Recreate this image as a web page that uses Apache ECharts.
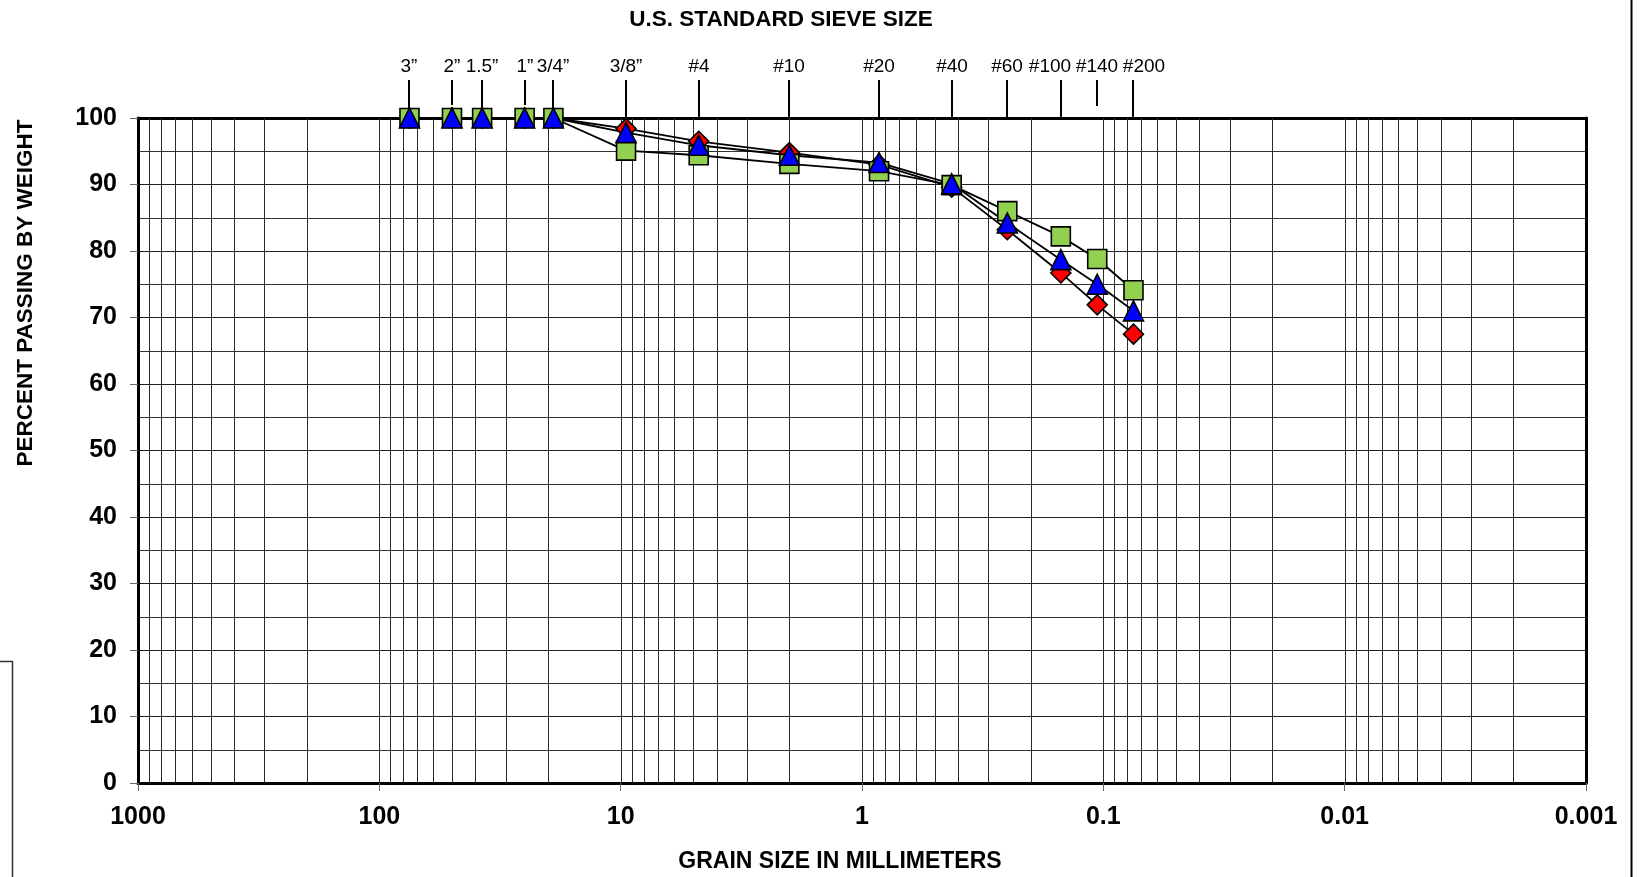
<!DOCTYPE html>
<html>
<head>
<meta charset="utf-8">
<script src="https://cdn.jsdelivr.net/npm/echarts@6/dist/echarts.min.js"></script>
<style>
  html, body { margin: 0; padding: 0; background: #fff; }
  #chart { width: 1641px; height: 877px; }
</style>
</head>
<body>
<div id="chart"></div>
<script>
// ---- data ----
const sieveLabels = ['3”', '2”', '1.5”', '1”', '3/4”', '3/8”', '#4', '#10', '#20', '#40', '#60', '#100', '#140', '#200'];
const sieveSizes  = [75, 50, 37.5, 25, 19, 9.5, 4.75, 2.0, 0.85, 0.425, 0.25, 0.15, 0.106, 0.075];
const redPassing   = [100, 100, 100, 100, 100, 98.4, 96.5, 94.8, 93.0, 89.6, 83.2, 76.7, 71.9, 67.5];
const greenPassing = [100, 100, 100, 100, 100, 95.1, 94.4, 93.1, 92.0, 89.9, 86.0, 82.2, 78.8, 74.1];
const bluePassing  = [100, 100, 100, 100, 100, 97.8, 95.9, 94.4, 93.3, 90.1, 84.2, 78.7, 75.0, 71.0];
const xTickLabels = ['0.001', '0.01', '0.1', '1', '10', '100', '1000'];
const yTickLabels = ['0', '10', '20', '30', '40', '50', '60', '70', '80', '90', '100'];

// ---- styling helpers ----
const FONT = '"Liberation Sans", Arial, sans-serif';
const labelShift = { '#100': -11, '#200': 11 };
const shortTick = { '#140': 12, '2”': 13, '1”': 13 };

const pairs = arr => sieveSizes.map((s, i) => [s, arr[i]]);

// minor/major vertical grid values of the log scale (excluding the frame edges)
const gridValues = [];
for (let k = -3; k <= 2; k++) {
  for (let m = 1; m <= 9; m++) {
    const v = m * Math.pow(10, k);
    if (k === -3 && m === 1) continue;
    gridValues.push(v);
  }
}

const chart = echarts.init(document.getElementById('chart'), null, { renderer: 'canvas' });

function lineSeries(arr) {
  return {
    type: 'line', data: pairs(arr), showSymbol: false, z: 2, silent: true,
    lineStyle: { color: '#000', width: 1.8 }, animation: false
  };
}
function markerSeries(arr, symbol, color, size) {
  return {
    type: 'scatter', data: pairs(arr), symbol: symbol, symbolSize: size, z: 3, silent: true,
    itemStyle: { color: color, borderColor: '#000', borderWidth: 1.6, opacity: 1 }, animation: false
  };
}

const option = {
  backgroundColor: '#fff',
  animation: false,
  grid: { left: 138, top: 118, width: 1448, height: 665, containLabel: false },
  xAxis: [{
    type: 'log', logBase: 10, min: 0.001, max: 1000, inverse: true, splitNumber: 6,
    axisLine: { show: true, onZero: false, lineStyle: { color: '#000', width: 3 } },
    axisTick: { show: true, length: 8, lineStyle: { color: '#666', width: 1 } },
    axisLabel: {
      margin: 22, color: '#000', fontFamily: FONT, fontWeight: 'bold', fontSize: 25,
      hideOverlap: false, showMinLabel: true, showMaxLabel: true,
      formatter: v => xTickLabels[Math.round(Math.log10(v)) + 3]
    },
    splitLine: { show: false }
  }, {
    type: 'log', logBase: 10, min: 0.001, max: 1000, inverse: true, position: 'top',
    axisLine: { show: true, onZero: false, lineStyle: { color: '#000', width: 3 } },
    axisTick: { show: false }, axisLabel: { show: false }, splitLine: { show: false }
  }],
  yAxis: [{
    type: 'value', min: 0, max: 100, interval: 10,
    axisLine: { show: true, onZero: false, lineStyle: { color: '#000', width: 3 } },
    axisTick: { show: true, length: 8, lineStyle: { color: '#666', width: 1 } },
    axisLabel: {
      margin: 21, color: '#000', fontFamily: FONT, fontWeight: 'bold', fontSize: 25,
      formatter: (v, i) => yTickLabels[Math.round(v / 10)]
    },
    splitLine: { show: true, lineStyle: { color: '#222', width: 1 } },
    minorTick: { show: false, splitNumber: 2 },
    minorSplitLine: { show: true, lineStyle: { color: '#333', width: 1 } }
  }, {
    type: 'value', min: 0, max: 100, interval: 10, position: 'right',
    axisLine: { show: true, onZero: false, lineStyle: { color: '#000', width: 3 } },
    axisTick: { show: false }, axisLabel: { show: false }, splitLine: { show: false }
  }],
  graphic: [
    { type: 'text', x: 781, y: 20, silent: true,
      style: { text: 'U.S. STANDARD SIEVE SIZE', font: 'bold 22.5px ' + FONT, fill: '#000',
               textAlign: 'center', textVerticalAlign: 'middle' } },
    { type: 'text', x: 840, y: 862, silent: true,
      style: { text: 'GRAIN SIZE IN MILLIMETERS', font: 'bold 23px ' + FONT, fill: '#000',
               textAlign: 'center', textVerticalAlign: 'middle' } },
    { type: 'text', x: 25.5, y: 293, rotation: Math.PI / 2, silent: true,
      style: { text: 'PERCENT PASSING BY WEIGHT', font: 'bold 22.5px ' + FONT, fill: '#000',
               textAlign: 'center', textVerticalAlign: 'middle' } },
    { type: 'line', silent: true, shape: { x1: 1631.5, y1: 0, x2: 1631.5, y2: 877 },
      style: { stroke: '#000', lineWidth: 2 } },
    { type: 'polyline', silent: true, shape: { points: [[0, 661.5], [12.5, 661.5], [12.5, 877]] },
      style: { stroke: '#333', lineWidth: 1.5, fill: null } }
  ],
  series: [
    {
      type: 'custom', coordinateSystem: 'cartesian2d', silent: true, z: 1, clip: true,
      data: gridValues.map(v => [v, 0]),
      renderItem: function (params, api) {
        const a = api.coord([api.value(0), 0]);
        const b = api.coord([api.value(0), 100]);
        const x = Math.round(a[0]) + 0.5;
        return { type: 'line', shape: { x1: x, y1: a[1], x2: x, y2: b[1] },
                 style: { stroke: '#2a2a2a', lineWidth: 1 } };
      }
    },
    {
      type: 'custom', coordinateSystem: 'cartesian2d', silent: true, z: 1, clip: false,
      data: sieveSizes.map((s, i) => [s, 100, i]),
      renderItem: function (params, api) {
        const i = api.value(2);
        const p = api.coord([api.value(0), 100]);
        const lbl = sieveLabels[i];
        const x = Math.round(p[0]);
        return {
          type: 'group',
          children: [
            { type: 'line', shape: { x1: x, y1: p[1] - 38, x2: x, y2: p[1] - (shortTick[lbl] || 0) },
              style: { stroke: '#000', lineWidth: 2 } },
            { type: 'text', style: { text: lbl, x: x + (labelShift[lbl] || 0), y: p[1] - 51,
                textAlign: 'center', textVerticalAlign: 'middle',
                font: '19px ' + FONT, fill: '#000' } }
          ]
        };
      }
    },
    lineSeries(redPassing),
    lineSeries(greenPassing),
    lineSeries(bluePassing),
    markerSeries(redPassing, 'diamond', '#FF0000', 20),
    markerSeries(greenPassing, 'rect', '#92D050', 19),
    markerSeries(bluePassing, 'triangle', '#0000FF', 20)
  ]
};
chart.setOption(option);
</script>
</body>
</html>
